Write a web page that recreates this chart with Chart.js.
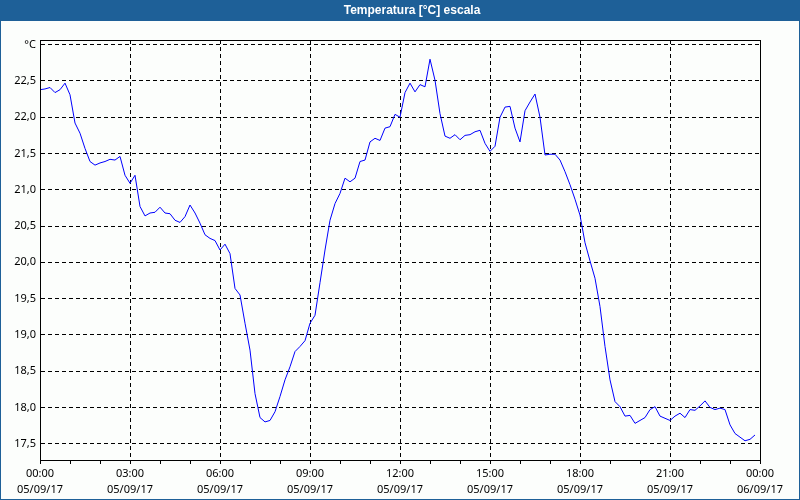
<!DOCTYPE html>
<html>
<head>
<meta charset="utf-8">
<script src="https://cdn.jsdelivr.net/npm/chart.js@4/dist/chart.umd.min.js"></script>
<style>
  html, body { margin: 0; padding: 0; background: #fcfefc; }
  canvas { display: block; }
</style>
</head>
<body>
<canvas id="c" width="800" height="500"></canvas>
<script>
// ---- Data ----
const chartTitle = 'Temperatura [°C] escala';
const startHour = 0;        // first sample at 00:00
const stepMinutes = 10;     // one sample every 10 minutes
const temperatures = [
  22.38, 22.39, 22.41, 22.34, 22.38, 22.47, 22.31, 21.92, 21.78, 21.57,
  21.39, 21.34, 21.37, 21.39, 21.42, 21.41, 21.46, 21.20, 21.09, 21.20,
  20.77, 20.64, 20.68, 20.69, 20.76, 20.68, 20.67, 20.58, 20.55, 20.63,
  20.79, 20.68, 20.54, 20.38, 20.33, 20.30, 20.17, 20.25, 20.12, 19.64,
  19.55, 19.16, 18.79, 18.19, 17.86, 17.80, 17.82, 17.94, 18.15, 18.38,
  18.56, 18.77, 18.84, 18.92, 19.16, 19.27, 19.72, 20.17, 20.58, 20.81,
  20.95, 21.16, 21.11, 21.16, 21.39, 21.41, 21.66, 21.71, 21.68, 21.85,
  21.87, 22.04, 22.00, 22.34, 22.47, 22.35, 22.45, 22.42, 22.80, 22.51,
  22.05, 21.74, 21.71, 21.76, 21.69, 21.75, 21.76, 21.80, 21.82, 21.64,
  21.53, 21.60, 22.00, 22.14, 22.15, 21.85, 21.66, 22.09, 22.21, 22.32,
  22.00, 21.48, 21.49, 21.49, 21.41, 21.25, 21.07, 20.87, 20.65, 20.27,
  20.02, 19.78, 19.39, 18.84, 18.38, 18.08, 18.01, 17.88, 17.89, 17.78,
  17.82, 17.86, 17.97, 18.01, 17.88, 17.85, 17.82, 17.88, 17.92, 17.86,
  17.97, 17.96, 18.02, 18.09, 18.00, 17.97, 17.99, 17.97, 17.76, 17.64,
  17.59, 17.54, 17.56, 17.62
];
const xTickTimes = ['00:00','03:00','06:00','09:00','12:00','15:00','18:00','21:00','00:00'];
const xTickDates = ['05/09/17','05/09/17','05/09/17','05/09/17','05/09/17','05/09/17','05/09/17','05/09/17','06/09/17'];
const yTickValues = [17.5, 18.0, 18.5, 19.0, 19.5, 20.0, 20.5, 21.0, 21.5, 22.0, 22.5, 23.0];
const yTickLabels = ['17,5','18,0','18,5','19,0','19,5','20,0','20,5','21,0','21,5','22,0','22,5','°C'];

// ---- Build points ----
const points = temperatures.map((v, i) => ({ x: startHour + i * stepMinutes / 60, y: v }));

const frameBlue = 'rgb(30,96,152)';
const bgColor = '#fcfefc';

const decorPlugin = {
  id: 'decor',
  beforeDraw(chart) {
    const ctx = chart.ctx;
    const w = chart.width, h = chart.height;
    ctx.save();
    ctx.fillStyle = bgColor;
    ctx.fillRect(0, 0, w, h);
    ctx.fillStyle = frameBlue;
    ctx.fillRect(0, 0, w, 21);
    ctx.strokeStyle = frameBlue;
    ctx.lineWidth = 1;
    ctx.strokeRect(0.5, 0.5, w - 1, h - 1);
    ctx.fillStyle = '#ffffff';
    ctx.font = 'bold 12px "Liberation Sans", Arial, sans-serif';
    ctx.textAlign = 'center';
    ctx.textBaseline = 'middle';
    ctx.fillText(chartTitle, 412, 11);
    ctx.restore();
  },
  afterDraw(chart) {
    const a = chart.chartArea;
    const ctx = chart.ctx;
    ctx.save();
    ctx.strokeStyle = '#000';
    ctx.lineWidth = 1;
    ctx.setLineDash([]);
    ctx.strokeRect(Math.round(a.left) + 0.5, Math.round(a.top) + 0.5,
                   Math.round(a.right - a.left), Math.round(a.bottom - a.top));
    ctx.restore();
  }
};

const axisFont = { family: '"Noto Sans", "DejaVu Sans", sans-serif', size: 11, lineHeight: '16px' };

new Chart(document.getElementById('c'), {
  type: 'line',
  data: {
    datasets: [{
      data: points,
      borderColor: '#0000ff',
      borderWidth: 1,
      pointRadius: 0,
      tension: 0,
      fill: false
    }]
  },
  options: {
    responsive: false,
    devicePixelRatio: 1,
    animation: false,
    layout: { padding: { top: 40, right: 40, left: 0, bottom: 0 } },
    plugins: { legend: { display: false }, tooltip: { enabled: false }, title: { display: false } },
    scales: {
      x: {
        type: 'linear',
        min: 0,
        max: 24,
        afterFit(scale) { scale.height = 40; },
        grid: {
          color: (c) => (c.tick && c.tick.value % 3 === 0 && c.tick.value > 0 && c.tick.value < 24) ? '#000' : 'rgba(0,0,0,0)',
          tickColor: '#000',
          tickLength: 4,
          tickBorderDash: [],
          drawTicks: true
        },
        border: { display: true, color: '#000', width: 1, dash: [4, 3] },
        ticks: {
          stepSize: 1,
          autoSkip: false,
          maxRotation: 0,
          padding: 2,
          color: '#000',
          font: axisFont,
          callback: (v) => (v % 3 === 0) ? [xTickTimes[v / 3], xTickDates[v / 3]] : ''
        }
      },
      y: {
        type: 'linear',
        min: 17.275,
        max: 23.065,
        afterFit(scale) { scale.width = 40; },
        afterBuildTicks(scale) { scale.ticks = yTickValues.map(v => ({ value: v })); },
        grid: { color: '#000', drawTicks: false },
        border: { display: true, color: '#000', width: 1, dash: [4, 3] },
        ticks: {
          padding: 4,
          color: '#000',
          font: axisFont,
          callback: (v) => {
            const i = yTickValues.findIndex(t => Math.abs(t - v) < 1e-6);
            return i >= 0 ? yTickLabels[i] : '';
          }
        }
      }
    }
  },
  plugins: [decorPlugin]
});
</script>
</body>
</html>
